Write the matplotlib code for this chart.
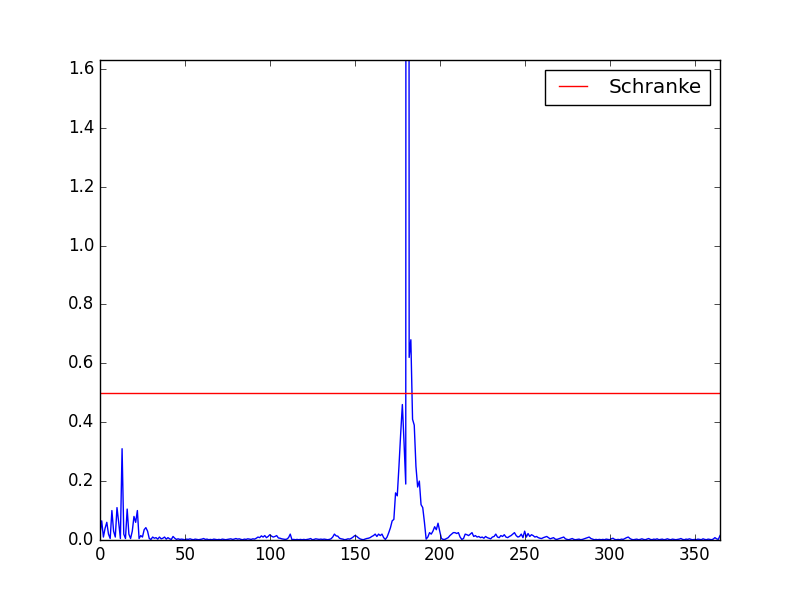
import matplotlib
matplotlib.use("Agg")
import matplotlib.pyplot as plt
import numpy as np

plt.style.use("classic")

values = [
    0.02, 0.065, 0.01, 0.04, 0.06, 0.02, 0.005, 0.10, 0.03, 0.01,
    0.11, 0.06, 0.005, 0.31, 0.02, 0.005, 0.105, 0.02, 0.005, 0.03,
    0.08, 0.06, 0.10, 0.005, 0.015, 0.01, 0.035, 0.042, 0.03, 0.005,
    0.002, 0.01, 0.006, 0.008, 0.003, 0.01, 0.004, 0.006, 0.01, 0.003,
    0.008, 0.004, 0.002, 0.012, 0.006, 0.002, 0.004, 0.002, 0.003, 0.002,
    0.001, 0.003, 0.002, 0.004, 0.002, 0.001, 0.003, 0.002, 0.001, 0.002,
    0.003, 0.005, 0.002, 0.003, 0.001, 0.002, 0.001, 0.003, 0.002, 0.001,
    0.002, 0.001, 0.003, 0.002, 0.001, 0.002, 0.003, 0.004, 0.002, 0.003,
    0.005, 0.003, 0.004, 0.002, 0.001, 0.003, 0.002, 0.004, 0.003, 0.002,
    0.004, 0.003, 0.006, 0.01, 0.008, 0.014, 0.01, 0.015, 0.008, 0.012,
    0.018, 0.013, 0.01, 0.012, 0.015, 0.007, 0.006, 0.004, 0.003, 0.002,
    0.003, 0.008, 0.02, 0.001, 0.002, 0.001, 0.002, 0.001, 0.002, 0.001,
    0.002, 0.001, 0.002, 0.003, 0.005, 0.001, 0.002, 0.004, 0.003, 0.002,
    0.003, 0.002, 0.003, 0.002, 0.001, 0.002, 0.004, 0.01, 0.02, 0.014,
    0.013, 0.006, 0.004, 0.003, 0.001, 0.002, 0.004, 0.003, 0.006, 0.01,
    0.015, 0.013, 0.008, 0.004, 0.002, 0.001, 0.003, 0.005, 0.006, 0.008,
    0.012, 0.015, 0.02, 0.012, 0.02, 0.015, 0.02, 0.008, 0.002, 0.01,
    0.025, 0.042, 0.065, 0.07, 0.16, 0.15, 0.25, 0.36, 0.46, 0.33,
    0.19, 20.0, 0.62, 0.68, 0.41, 0.39, 0.25, 0.18, 0.20, 0.12,
    0.11, 0.06, 0.003, 0.01, 0.025, 0.02, 0.03, 0.045, 0.035, 0.057,
    0.03, 0.005, 0.002, 0.002, 0.005, 0.008, 0.015, 0.02, 0.025, 0.025,
    0.022, 0.025, 0.01, 0.002, 0.005, 0.02, 0.018, 0.015, 0.02, 0.025,
    0.012, 0.015, 0.01, 0.012, 0.008, 0.01, 0.006, 0.012, 0.008, 0.006,
    0.004, 0.01, 0.012, 0.02, 0.01, 0.008, 0.015, 0.012, 0.018, 0.01,
    0.008, 0.012, 0.015, 0.02, 0.025, 0.015, 0.01, 0.012, 0.02, 0.008,
    0.03, 0.01, 0.022, 0.012, 0.018, 0.015, 0.01, 0.012, 0.008, 0.006,
    0.005, 0.008, 0.01, 0.012, 0.008, 0.004, 0.006, 0.008, 0.003, 0.002,
    0.004, 0.006, 0.008, 0.01, 0.004, 0.002, 0.001, 0.003, 0.005, 0.002,
    0.001, 0.002, 0.003, 0.001, 0.002, 0.004, 0.006, 0.008, 0.01, 0.005,
    0.003, 0.001, 0.002, 0.001, 0.002, 0.001, 0.002, 0.001, 0.003, 0.002,
    0.001, 0.004, 0.006, 0.002, 0.001, 0.002, 0.001, 0.003, 0.002, 0.005,
    0.008, 0.01, 0.005, 0.002, 0.001, 0.002, 0.003, 0.001, 0.002, 0.004,
    0.002, 0.001, 0.003, 0.005, 0.002, 0.001, 0.003, 0.002, 0.004, 0.001,
    0.002, 0.003, 0.001, 0.002, 0.004, 0.002, 0.001, 0.003, 0.002, 0.001,
    0.002, 0.003, 0.005, 0.002, 0.001, 0.003, 0.002, 0.004, 0.002, 0.001,
    0.002, 0.001, 0.003, 0.002, 0.001, 0.004, 0.002, 0.001, 0.003, 0.002,
    0.001, 0.003, 0.008, 0.004, 0.002, 0.015,
]
threshold = 0.5
threshold_label = "Schranke"

x = np.arange(len(values))

fig = plt.figure(figsize=(8, 6), dpi=100)
ax = fig.add_subplot(111)
ax.plot(x, values, color="b", linewidth=1.0)
ax.axhline(threshold, color="r", linewidth=1.0, label=threshold_label)
ax.set_xlim(0, 365)
ax.set_ylim(0, 1.63)
ax.legend(loc="upper right")
fig.savefig("out.png", dpi=100)
